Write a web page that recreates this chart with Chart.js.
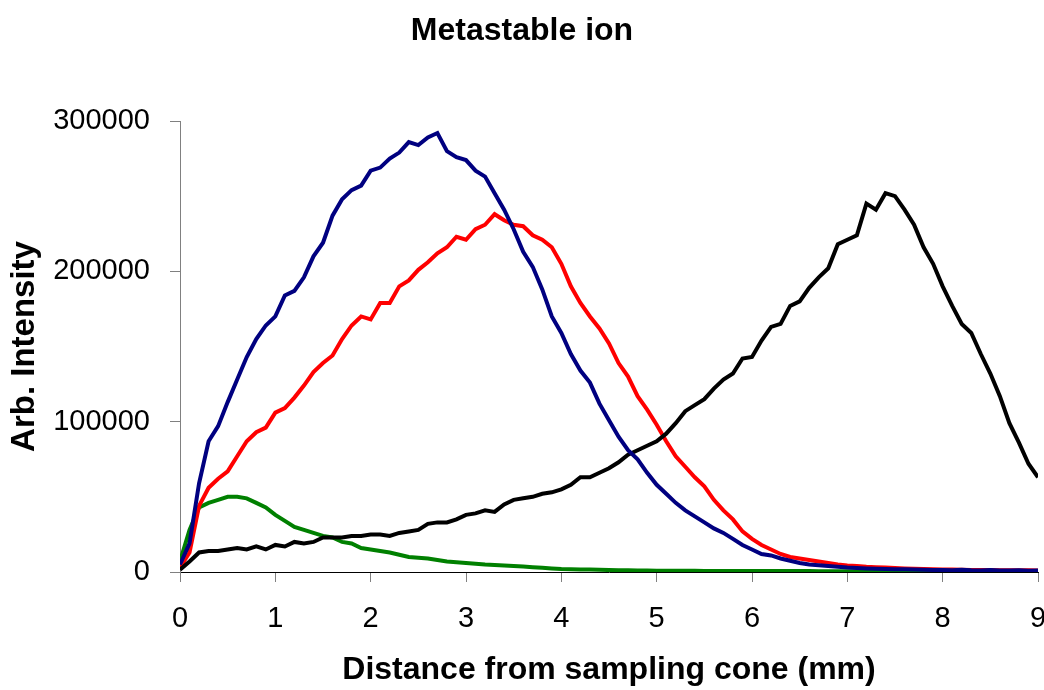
<!DOCTYPE html>
<html>
<head>
<meta charset="utf-8">
<title>Metastable ion</title>
<script src="https://cdn.jsdelivr.net/npm/chart.js@4"></script>
<style>
  html, body { margin: 0; padding: 0; background: #fff; }
  canvas { display: block; }
</style>
</head>
<body>
<canvas id="graficoIon" width="1044" height="690"></canvas>
<script>
// distance from sampling cone (mm), one sample every 0.1 mm
const distance = [
  0.0, 0.1, 0.2, 0.3, 0.4, 0.5, 0.6, 0.7, 0.8, 0.9,
  1.0, 1.1, 1.2, 1.3, 1.4, 1.5, 1.6, 1.7, 1.8, 1.9,
  2.0, 2.1, 2.2, 2.3, 2.4, 2.5, 2.6, 2.7, 2.8, 2.9,
  3.0, 3.1, 3.2, 3.3, 3.4, 3.5, 3.6, 3.7, 3.8, 3.9,
  4.0, 4.1, 4.2, 4.3, 4.4, 4.5, 4.6, 4.7, 4.8, 4.9,
  5.0, 5.1, 5.2, 5.3, 5.4, 5.5, 5.6, 5.7, 5.8, 5.9,
  6.0, 6.1, 6.2, 6.3, 6.4, 6.5, 6.6, 6.7, 6.8, 6.9,
  7.0, 7.1, 7.2, 7.3, 7.4, 7.5, 7.6, 7.7, 7.8, 7.9,
  8.0, 8.1, 8.2, 8.3, 8.4, 8.5, 8.6, 8.7, 8.8, 8.9,
  9.0
];

// intensities
const navySeries = [
  5000, 19000, 59000, 87000, 97000, 113000, 128000, 143000, 155000, 164000,
  170000, 184000, 187000, 196000, 210000, 219000, 237000, 248000, 254000, 257000,
  267000, 269000, 275000, 279000, 286000, 284000, 289000, 292000, 280000, 276000,
  274000, 267000, 263000, 252000, 241000, 228000, 213000, 203000, 188000, 170000,
  159000, 145000, 134000, 126000, 112000, 101000, 90000, 81000, 75000, 66000,
  58000, 52000, 46000, 41000, 37000, 33000, 29000, 26000, 22000, 18000,
  15000, 12000, 11000, 9000, 7500, 6000, 5000, 4500, 4000, 3500,
  3000, 2700, 2400, 2200, 2000, 1900, 1800, 1600, 1500, 1400,
  1300, 1200, 1500, 1100, 1000, 1300, 1000, 1000, 1200, 900,
  1000
];

const redSeries = [
  3000, 13000, 44000, 56000, 62000, 67000, 77000, 87000, 93000, 96000,
  106000, 109000, 116000, 124000, 133000, 139000, 144000, 155000, 164000, 170000,
  168000, 179000, 179000, 190000, 194000, 201000, 206000, 212000, 216000, 223000,
  221000, 228000, 231000, 238000, 234000, 231000, 230000, 224000, 221000, 216000,
  205000, 190000, 179000, 170000, 162000, 152000, 139000, 130000, 117000, 108000,
  98000, 87000, 77000, 70000, 63000, 57000, 48000, 41000, 35000, 27000,
  22000, 18000, 15000, 12000, 10000, 9000, 8000, 7000, 6000, 5000,
  4400, 4000, 3500, 3200, 3000, 2700, 2400, 2200, 2000, 1900,
  1700, 1600, 1500, 1400, 1400, 1300, 1200, 1200, 1100, 1100,
  1000
];

const blackSeries = [
  1500, 7000, 13000, 14000, 14000, 15000, 16000, 15000, 17000, 15000,
  18000, 17000, 20000, 19000, 20000, 23000, 23000, 23000, 24000, 24000,
  25000, 25000, 24000, 26000, 27000, 28000, 32000, 33000, 33000, 35000,
  38000, 39000, 41000, 40000, 45000, 48000, 49000, 50000, 52000, 53000,
  55000, 58000, 63000, 63000, 66000, 69000, 73000, 78000, 81000, 84000,
  87000, 92000, 99000, 107000, 111000, 115000, 122000, 128000, 132000, 142000,
  143000, 154000, 163000, 165000, 177000, 180000, 189000, 196000, 202000, 218000,
  221000, 224000, 245000, 241000, 252000, 250000, 241000, 231000, 216000, 205000,
  190000, 177000, 165000, 159000, 145000, 132000, 117000, 99000, 86000, 72000,
  63000
];

const greenSeries = [
  7000, 28000, 43000, 46000, 48000, 50000, 50000, 49000, 46000, 43000,
  38000, 34000, 30000, 28000, 26000, 24000, 23000, 20000, 19000, 16000,
  15000, 14000, 13000, 11500, 10000, 9500, 9000, 8000, 7000, 6500,
  6000, 5500, 5000, 4700, 4300, 4000, 3600, 3200, 2800, 2400,
  2000, 1900, 1700, 1600, 1500, 1300, 1200, 1100, 1000, 1000,
  900, 900, 800, 800, 800, 700, 700, 700, 700, 600,
  600, 600, 600, 600, 600, 600, 600, 500, 500, 500,
  500, 500, 500, 500, 500, 500, 500, 500, 500, 500,
  500, 500, 500, 500, 500, 500, 500, 500, 500, 500,
  500
];

const yTicks = [0, 100000, 200000, 300000];

const FONT = "'Liberation Sans', Arial, Helvetica, sans-serif";

function toPoints(values) {
  return values.map((v, i) => ({ x: distance[i], y: v }));
}

function serie(values, color) {
  return {
    data: toPoints(values),
    borderColor: color,
    backgroundColor: color,
    borderWidth: 4,
    pointRadius: 0,
    tension: 0,
    fill: false
  };
}

// first dataset is drawn on top
const dataIon = {
  datasets: [
    serie(navySeries, '#000080'),
    serie(blackSeries, '#000000'),
    serie(redSeries, '#ff0000'),
    serie(greenSeries, '#008000')
  ]
};

const configIon = {
  type: 'line',
  data: dataIon,
  options: {
    responsive: false,
    animation: false,
    layout: { padding: 0 },
    plugins: {
      legend: { display: false },
      tooltip: { enabled: false },
      title: {
        display: true,
        text: 'Metastable ion',
        color: '#000',
        font: { family: FONT, size: 32, weight: 'bold' },
        padding: { top: 12, bottom: 70.6 }
      }
    },
    scales: {
      x: {
        type: 'linear',
        min: 0,
        max: 9,
        border: { display: true, color: '#000', width: 1 },
        grid: { drawOnChartArea: false, drawTicks: true, tickLength: 10, color: '#808080' },
        ticks: {
          stepSize: 1,
          padding: 20,
          color: '#000',
          font: { family: FONT, size: 29 },
          maxRotation: 0
        },
        title: {
          display: true,
          text: 'Distance from sampling cone (mm)',
          color: '#000',
          font: { family: FONT, size: 32, weight: 'bold' },
          padding: { top: 0, bottom: 1 }
        },
        afterFit: (scale) => {
          scale.height = 118;
          scale.paddingLeft = 0;
          scale.paddingRight = 6;
        }
      },
      y: {
        min: 0,
        max: 300000,
        border: { display: true, color: '#808080', width: 1 },
        grid: { drawOnChartArea: false, drawTicks: true, tickLength: 10, color: '#808080' },
        afterBuildTicks: (scale) => {
          scale.ticks = yTicks.map(v => ({ value: v }));
        },
        ticks: {
          padding: 20,
          color: '#000',
          font: { family: FONT, size: 29 },
          callback: (v) => String(v)
        },
        title: {
          display: true,
          text: 'Arb. Intensity',
          color: '#000',
          font: { family: FONT, size: 33, weight: 'bold' },
          padding: { top: 5, bottom: 0 }
        },
        afterFit: (scale) => {
          scale.width = 180;
          scale.paddingTop = 0;
          scale.paddingBottom = 0;
        }
      }
    }
  }
};

const ctxIon = document.getElementById('graficoIon').getContext('2d');
new Chart(ctxIon, configIon);
</script>
</body>
</html>
